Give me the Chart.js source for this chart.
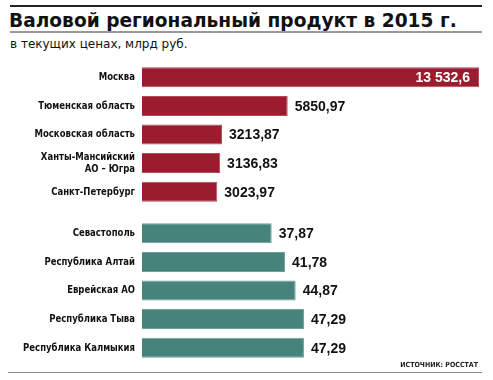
<!DOCTYPE html>
<html lang="ru">
<head>
<meta charset="utf-8">
<script src="https://cdn.jsdelivr.net/npm/chart.js@4"></script>
<style>
  body { margin: 0; background: #fff; width: 493px; height: 380px; position: relative; overflow: hidden; font-family: "Liberation Sans", Arial, sans-serif; }
  .rule { position: absolute; left: 10px; width: 472px; }
  #title { position: absolute; left: 9px; top: 10px; font: bold 18.6px "DejaVu Sans", sans-serif; color: #111; white-space: nowrap; }
  #sub { position: absolute; left: 10px; top: 37px; font: 12px "DejaVu Sans", sans-serif; color: #111; white-space: nowrap; }
  #src { position: absolute; right: 15px; top: 361px; font: bold 7px "DejaVu Sans Condensed", sans-serif; color: #222; }
  canvas { position: absolute; left: 0; }
</style>
</head>
<body>
<div class="rule" style="top:5px;height:2px;background:#222"></div>
<div id="title">Валовой региональный продукт в 2015 г.</div>
<div class="rule" style="top:31px;height:2px;background:#999"></div>
<div id="sub">в текущих ценах, млрд руб.</div>
<canvas id="topChart" width="493" height="143" style="top:63px"></canvas>
<canvas id="bottomChart" width="493" height="143" style="top:219px"></canvas>
<div id="src">ИСТОЧНИК: РОССТАТ</div>
<div class="rule" style="top:372px;left:8px;width:474px;height:1px;background:#888"></div>

<script>
// Лидеры и аутсайдеры по ВРП, млрд руб.
const topRegions = ["Москва", "Тюменская область", "Московская область", ["Ханты-Мансийский", "АО – Югра"], "Санкт-Петербург"];
const topValues = [13532.6, 5850.97, 3213.87, 3136.83, 3023.97];

const bottomRegions = ["Севастополь", "Республика Алтай", "Еврейская АО", "Республика Тыва", "Республика Калмыкия"];
const bottomValues = [37.87, 41.78, 44.87, 47.29, 47.29];

const topMax = 13532.6;
const bottomMax = 98.4;

function formatValue(v) {
  let [int, frac] = String(v).split(".");
  if (int.length > 4) int = int.replace(/\B(?=(\d{3})+(?!\d))/g, " ");
  return frac ? int + "," + frac : int;
}

// Подписи значений справа от столбцов (у Москвы - внутри)
const valueLabels = {
  id: "valueLabels",
  afterDatasetsDraw(chart) {
    const ctx = chart.ctx;
    const meta = chart.getDatasetMeta(0);
    const data = chart.data.datasets[0].data;
    ctx.save();
    ctx.font = "bold 14px 'Liberation Sans', Arial, sans-serif";
    ctx.textBaseline = "middle";
    meta.data.forEach((bar, i) => {
      const text = formatValue(data[i]);
      if (bar.x > chart.chartArea.right - 20) {
        ctx.fillStyle = "#fff";
        ctx.textAlign = "right";
        ctx.fillText(text, bar.x - 9, bar.y + 1);
      } else {
        ctx.fillStyle = "#111";
        ctx.textAlign = "left";
        ctx.fillText(text, bar.x + 7, bar.y + 1);
      }
    });
    ctx.restore();
  },
};

// Названия регионов: узкий шрифт, поэтому рисуем сами со сжатием по ширине
const regionLabels = {
  id: "regionLabels",
  afterDraw(chart) {
    const ctx = chart.ctx;
    const yScale = chart.scales.y;
    ctx.save();
    ctx.font = "bold 11px 'DejaVu Sans Condensed', sans-serif";
    ctx.fillStyle = "#111";
    ctx.textAlign = "right";
    ctx.textBaseline = "middle";
    chart.data.labels.forEach((label, i) => {
      const lines = Array.isArray(label) ? label : [label];
      const y0 = yScale.getPixelForTick(i) - (lines.length - 1) * 6;
      lines.forEach((line, j) => {
        ctx.save();
        ctx.translate(yScale.right - 7, y0 + j * 12);
        ctx.scale(0.86, 1);
        ctx.fillText(line, 0, 0);
        ctx.restore();
      });
    });
    ctx.restore();
  },
};

function makeChart(id, labels, values, color, border, max) {
  return new Chart(document.getElementById(id), {
    type: "bar",
    data: {
      labels: labels,
      datasets: [{
        data: values,
        backgroundColor: color,
        borderColor: border,
        borderWidth: 1,
        borderSkipped: "left",
        categoryPercentage: 0.7,
        barPercentage: 1,
      }],
    },
    options: {
      indexAxis: "y",
      responsive: false,
      animation: false,
      layout: { padding: { left: 0, right: 14, top: 0, bottom: 0 } },
      plugins: { legend: { display: false }, tooltip: { enabled: false } },
      scales: {
        x: { display: false, min: 0, max: max },
        y: {
          grid: { display: false },
          border: { display: false },
          ticks: { display: false },
          afterFit: (scale) => {
            scale.width = 142;
            scale.paddingTop = 0;
            scale.paddingBottom = 0;
          },
        },
      },
    },
    plugins: [valueLabels, regionLabels],
  });
}

makeChart("topChart", topRegions, topValues, "#9a1c2e", "#b8495a", topMax);
makeChart("bottomChart", bottomRegions, bottomValues, "#46847b", "#6aa39a", bottomMax);
</script>
</body>
</html>
